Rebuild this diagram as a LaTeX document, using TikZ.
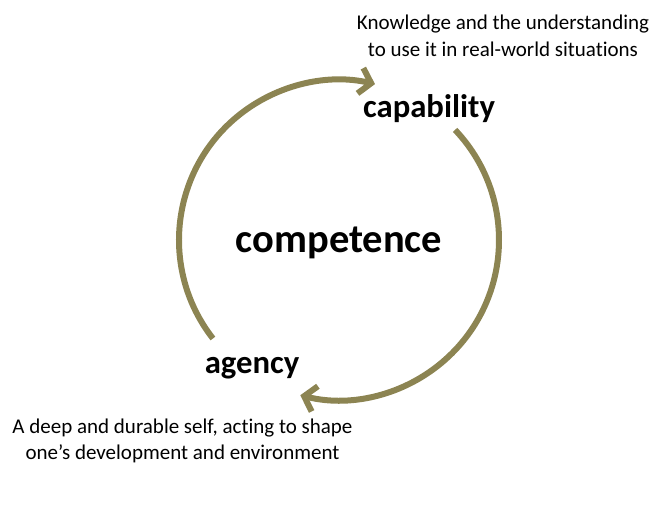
\documentclass[tikz,border=0pt]{standalone}
\usepackage{fontspec}
\setmainfont{Carlito}[Ligatures=NoCommon]
\usetikzlibrary{arrows.meta}
\definecolor{olive}{RGB}{140,132,82}
\tikzset{
  cyc/.style={draw=olive, line width=6pt, -{Straight Barb[length=11pt,width=26pt,line width=6pt]}},
  big/.style={font=\fontsize{32.7}{38}\selectfont\bfseries, inner sep=0pt},
  huge/.style={font=\fontsize{40.5}{48}\selectfont\bfseries, inner sep=0pt},
  note/.style={font=\fontsize{21}{26.5}\selectfont, align=center, inner sep=0pt}
}
\begin{document}
\begin{tikzpicture}[x=1pt,y=1pt]
\useasboundingbox (0,0) rectangle (655,514);
\coordinate (C) at (339,274);
\node[huge] (comp) at (339,271) {competence};
\node[big] (cap) at (429,405) {capability};
\node[big] (ag) at (252,146) {agency};
\node[note] (capnote) at (503,478) {Knowledge and the understanding\\to use it in real-world situations};
\node[note] (agnote) at (182.5,73) {A deep and durable self, acting to shape\\one’s development and environment};
\draw[cyc] ([shift={(218:160)}]C) arc[start angle=218, end angle=77, radius=160];
\draw[cyc] ([shift={(43.5:160)}]C) arc[start angle=43.5, end angle=-104, radius=160];
\end{tikzpicture}
\end{document}
